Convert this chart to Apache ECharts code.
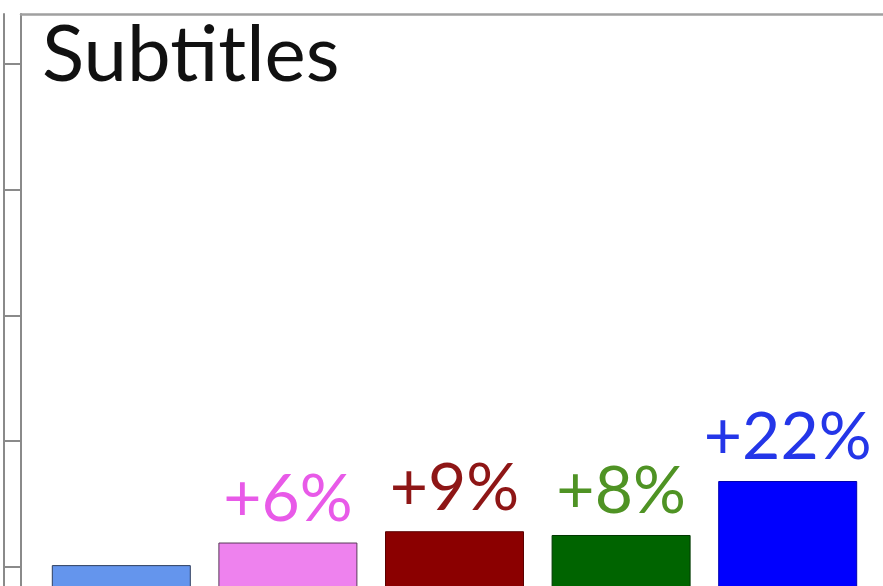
<!DOCTYPE html>
<html>
<head>
<meta charset="utf-8">
<script src="https://cdn.jsdelivr.net/npm/echarts@6/dist/echarts.min.js"></script>
<style>
  html, body { margin: 0; padding: 0; background: #fff; }
  #chart { width: 883px; height: 586px; }
</style>
</head>
<body>
<div id="chart"></div>
<script>
// Five groups; growth labels are measured against the first bar.
const categories = ['A', 'B', 'C', 'D', 'E'];
const values = [301, 319, 328, 325, 368];
const tickValues = [0, 100, 200, 300, 400, 500, 600, 700];

const barColors = ['#6495ED', '#EE82EE', '#8B0000', '#006400', '#0000FF'];
const barBorders = ['#2f3f5f', '#5a3a5a', '#5a0000', '#003800', '#0000b0'];
const labelColors = ['#6495ED', '#E85AE8', '#8E1616', '#4F9324', '#2436E8'];

const axisMax = 740;
const base = values[0];

function growthLabel(v, i) {
  if (i === 0) return '';
  const pct = Math.round((v / base - 1) * 100);
  return (pct >= 0 ? '+' : '') + pct + '%';
}

const chart = echarts.init(document.getElementById('chart'));
chart.setOption({
  animation: false,
  title: {
    text: 'Subtitles',
    left: 37,
    top: 12,
    textStyle: { fontFamily: 'Lato', fontWeight: 'normal', fontSize: 78, color: '#111' }
  },
  grid: [
    // frame: left axis and top border (runs past the right and bottom edges)
    { left: 21, top: 14, right: -40, bottom: -357, outerBoundsMode: 'none' },
    // plotting area for the bars
    { left: 38, top: 14, right: 12, bottom: -357, outerBoundsMode: 'none' }
  ],
  xAxis: [
    {
      gridIndex: 0, type: 'value', position: 'top', min: 0, max: 1,
      axisLine: { show: true, onZero: false, lineStyle: { color: '#a0a0a0', width: 2.5 } },
      axisTick: { show: false }, axisLabel: { show: false }, splitLine: { show: false }
    },
    {
      gridIndex: 1, type: 'category', data: categories,
      axisLine: { show: false }, axisTick: { show: false }, axisLabel: { show: false }
    }
  ],
  yAxis: [
    {
      gridIndex: 0, type: 'value', min: 0, max: axisMax, interval: 100,
      axisLine: { show: true, onZero: false, lineStyle: { color: '#8a8a8a', width: 2 } },
      axisTick: { show: true, inside: false, length: 17, customValues: tickValues,
                  lineStyle: { color: '#8a8a8a', width: 2 } },
      axisLabel: { show: false }, splitLine: { show: false }
    },
    {
      gridIndex: 0, type: 'value', min: 0, max: axisMax, position: 'left', offset: 17,
      axisLine: { show: true, onZero: false, lineStyle: { color: '#8a8a8a', width: 2 } },
      axisTick: { show: false }, axisLabel: { show: false }, splitLine: { show: false }
    },
    {
      gridIndex: 1, type: 'value', min: 0, max: axisMax, show: false
    }
  ],
  series: [{
    type: 'bar',
    xAxisIndex: 1,
    yAxisIndex: 2,
    barWidth: 139,
    data: values.map((v, i) => ({
      value: v,
      itemStyle: { color: barColors[i], borderColor: barBorders[i], borderWidth: 1 },
      label: {
        show: i > 0,
        position: 'top',
        distance: 10,
        formatter: () => growthLabel(v, i),
        color: labelColors[i],
        fontFamily: 'Lato',
        fontSize: 66
      }
    }))
  }]
});
</script>
</body>
</html>
